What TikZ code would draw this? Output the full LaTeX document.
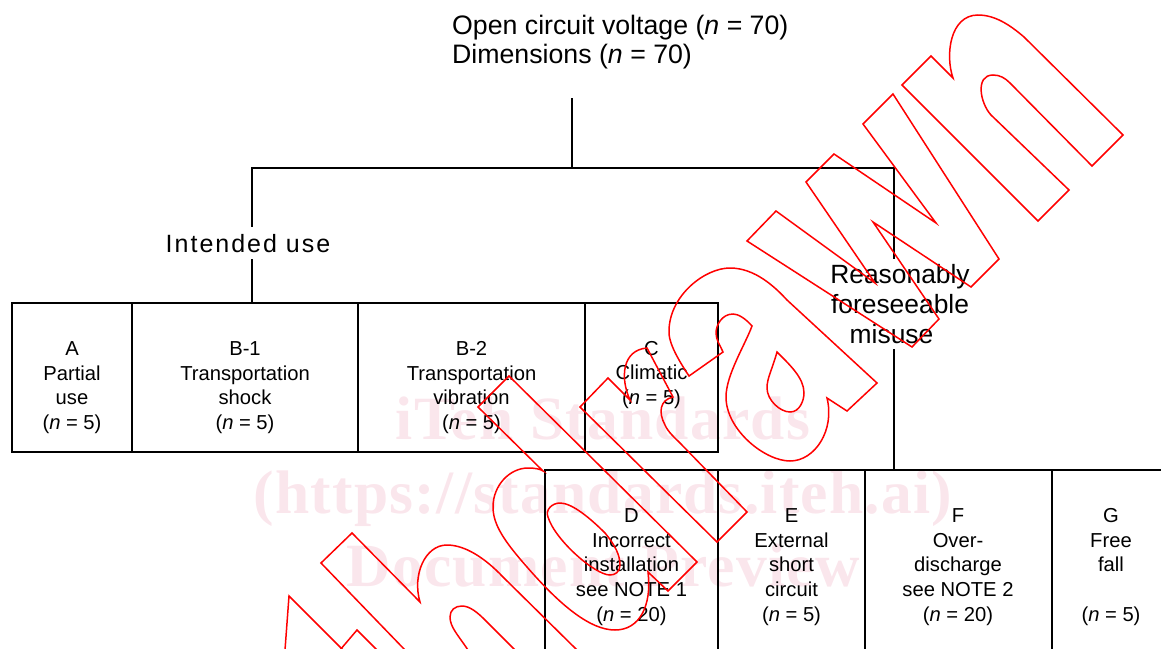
\documentclass[tikz,border=0pt]{standalone}
\usepackage{fontspec}
\setmainfont{Liberation Sans}
\newfontfamily\wmfont[LetterSpace=2]{Liberation Serif}
\newfontfamily\spfont[LetterSpace=8]{Liberation Sans}
\definecolor{wmpink}{HTML}{FAE6EC}
\definecolor{wmred}{HTML}{FF0000}
\tikzset{
  cellbox/.style={draw=black,line width=1.7pt,rectangle,inner sep=0pt,outer sep=0pt,minimum height=149pt},
  lowbox/.style={draw=black,line width=1.7pt,rectangle,inner sep=0pt,outer sep=0pt,minimum height=200pt},
  celltext/.style={align=center,inner sep=0pt,font=\fontsize{20.2}{24.7}\selectfont},
  headtext/.style={align=left,anchor=west,inner sep=0pt,font=\fontsize{26.7}{29.5}\selectfont},
  misusetext/.style={align=center,inner sep=0pt,font=\fontsize{26.4}{29.8}\selectfont},
  usetext/.style={inner sep=0pt,font=\fontsize{25}{29}\selectfont\spfont},
  conn/.style={draw=black,line width=1.7pt},
  wmtext/.style={inner sep=0pt,text=wmpink,font=\fontsize{61.5}{70}\selectfont\bfseries\wmfont},
  outline/.style={draw=wmred,line width=1.5pt,line join=miter}
}
\begin{document}
\begin{tikzpicture}[x=1pt,y=-1pt]
\useasboundingbox (0,0) rectangle (1161,648);
\clip (0,0) rectangle (1161,648);
% pale watermark
\node[wmtext] (wma) at (603,418) {iTeh Standards};
\node[wmtext] (wmb) at (603,499) {(https://standards.iteh.ai)};
\node[wmtext] (wmc) at (603,566) {Document Preview};
% heading
\node[headtext] (head) at (452,42) {Open circuit voltage (\textit{n} = 70)\\Dimensions (\textit{n} = 70)};
\coordinate (stem) at (572,98);
\coordinate (split) at (572,168);
\coordinate (lcorner) at (252,168);
\coordinate (rcorner) at (894,168);
\node[usetext] (use) at (248,244) {Intended use};
\node[misusetext] (misuse) at (900,304) {Reasonably\\foreseeable\\\mbox{misuse\hspace{17pt}}};
% boxes, upper row
\node[cellbox,minimum width=120pt] (a) at (72,377.5) {};
\node[cellbox,minimum width=226pt] (b1) at (245,377.5) {};
\node[cellbox,minimum width=227pt] (b2) at (471.5,377.5) {};
\node[cellbox,minimum width=133pt] (c) at (651.5,377.5) {};
% boxes, lower row
\node[lowbox,minimum width=173pt,anchor=north west] (d) at (545,470) {};
\node[lowbox,minimum width=147pt,anchor=north west] (e) at (718,470) {};
\node[lowbox,minimum width=187pt,anchor=north west] (f) at (865,470) {};
\node[lowbox,minimum width=130pt,anchor=north west] (g) at (1052,470) {};
% connectors
\draw[conn] (stem) -- (split);
\draw[conn,line cap=rect] (lcorner) -- (rcorner);
\coordinate (lgap1) at (252,227);
\coordinate (lgap2) at (252,259);
\coordinate (rgap1) at (894,259);
\coordinate (rgap2) at (894,349);
\coordinate (ltop) at (252,303);
\coordinate (rlow) at (894,470);
\draw[conn] (lcorner) -- (lgap1);
\draw[conn] (lgap2) -- (ltop);
\draw[conn] (rcorner) -- (rgap1);
\draw[conn] (rgap2) -- (rlow);
% labels in boxes
\node[celltext] (at) at (72,387.5) {A\\Partial\\use\\(\textit{n} = 5)};
\node[celltext] (b1t) at (245,387.5) {B-1\\Transportation\\shock\\(\textit{n} = 5)};
\node[celltext] (b2t) at (471.5,387.5) {B-2\\Transportation\\vibration\\(\textit{n} = 5)};
\node[celltext] (ct) at (651.5,375) {C\\Climatic\\(\textit{n} = 5)};
\node[celltext] (dt) at (631.5,567) {D\\Incorrect\\installation\\see NOTE 1\\(\textit{n} = 20)};
\node[celltext] (et) at (791.5,567) {E\\External\\short\\circuit\\(\textit{n} = 5)};
\node[celltext] (ft) at (958,567) {F\\Over-\\discharge\\see NOTE 2\\(\textit{n} = 20)};
\node[celltext] (gt) at (1111,567) {G\\Free\\fall\\\mbox{}\\(\textit{n} = 5)};
% letter n
\draw[outline] (902,85) -- (931,56) -- (953,78)
  .. controls (945,55) and (950,15) .. (978,15)
  .. controls (995,15) and (1010,25) .. (1024,37)
  -- (1123,135) -- (1092,166) -- (1010,83)
  .. controls (1005,78) and (1000,75) .. (993,75)
  .. controls (975,75) and (980,103) .. (991,115)
  -- (1069,190) -- (1038,221) -- cycle;
% letter w
\draw[outline] (806,182) -- (834,154) -- (936,223) -- (863,124) -- (893,94) -- (999,259) -- (971,287) -- (873,222) -- (939,319) -- (912,347) -- (747,241) -- (776,211) -- (875,283) -- cycle;
% letter a
\draw[outline] (689,376)
  .. controls (675,355) and (668,340) .. (669,330)
  .. controls (670,295) and (705,268) .. (730,268)
  .. controls (755,268) and (775,287) .. (787,300)
  -- (877,383) -- (847,411) -- (827,398)
  .. controls (835,430) and (815,461) .. (790,461)
  .. controls (765,461) and (726,430) .. (726,397)
  .. controls (726,375) and (745,345) .. (752,326)
  .. controls (745,318) and (738,314) .. (733,314)
  .. controls (722,314) and (716,325) .. (716,333)
  .. controls (716,340) and (720,345) .. (723,352)
  -- cycle;
\draw[outline] (777,352)
  .. controls (772,370) and (767,378) .. (767,388)
  .. controls (767,400) and (780,412) .. (790,412)
  .. controls (800,412) and (804,400) .. (804,393)
  .. controls (804,378) and (790,365) .. (777,352) -- cycle;
% letter r
\draw[outline] (580,407) -- (608,378) -- (630,400)
  .. controls (620,378) and (622,350) .. (647,348)
  -- (673,397)
  .. controls (660,400) and (658,412) .. (665,425)
  .. controls (668,432) and (675,438) .. (680,443)
  -- (747,512) -- (717,542) -- cycle;
% letter d
\draw[outline] (478,407) -- (509,376) -- (697,562) -- (668,591) -- (648,572)
  .. controls (652,605) and (640,630) .. (615,630)
  .. controls (590,630) and (560,605) .. (527,567)
  .. controls (505,542) and (493,525) .. (493,507)
  .. controls (493,485) and (510,468) .. (528,468)
  .. controls (535,468) and (540,469) .. (543,471)
  -- cycle;
\draw[outline] (548,517)
  .. controls (545,510) and (552,503) .. (560,503)
  .. controls (572,503) and (590,518) .. (605,533)
  .. controls (615,545) and (620,555) .. (620,565)
  .. controls (620,572) and (615,575) .. (610,575)
  .. controls (595,575) and (555,540) .. (548,517) -- cycle;
% letter h
\draw[outline] (405,650) -- (321,563) -- (352,533) -- (420,602)
  .. controls (412,575) and (425,545) .. (447,545)
  .. controls (465,545) and (485,558) .. (503,577)
  -- (577,650);
\draw[outline] (468,650)
  .. controls (458,635) and (450,627) .. (450,617)
  .. controls (450,610) and (455,606) .. (462,606)
  .. controls (470,606) and (478,613) .. (485,620)
  -- (515,650);
% letter t
\draw[outline] (285,650) -- (289,596) -- (343,650);
\draw[outline] (340,650) -- (357,630) -- (377,650);
\end{tikzpicture}
\end{document}
